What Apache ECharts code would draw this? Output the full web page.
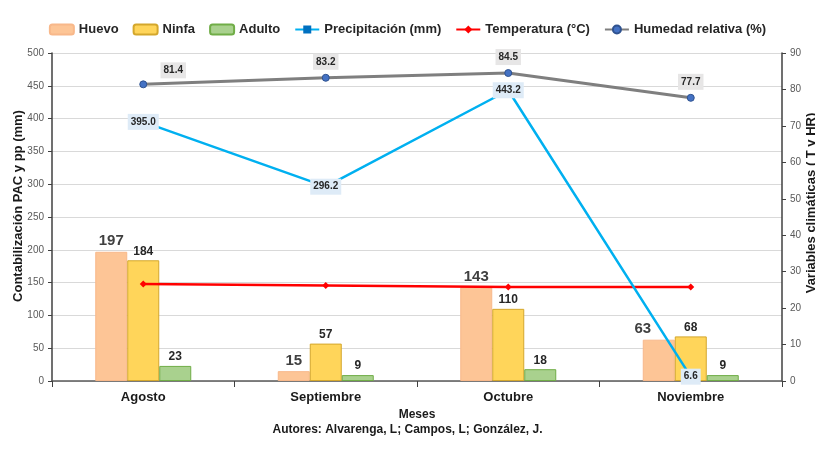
<!DOCTYPE html>
<html><head><meta charset="utf-8">
<script src="https://cdn.jsdelivr.net/npm/echarts@6/dist/echarts.min.js"></script>
<style>html,body{margin:0;padding:0;background:#fff}#c{width:815px;height:470px}</style>
</head><body><div id="c"></div>
<script>
const meses = ['Agosto', 'Septiembre', 'Octubre', 'Noviembre'];
const huevo = [197, 15, 143, 63];
const ninfa = [184, 57, 110, 68];
const adulto = [23, 9, 18, 9];
const precipitacion = [395.0, 296.2, 443.2, 6.6];
const temperatura = [26.6, 26.2, 25.8, 25.8];
const humedad = [81.4, 83.2, 84.5, 77.7];

const F = '"Liberation Sans", Arial, sans-serif';
const chart = echarts.init(document.getElementById('c'));
const barLbl = (sz, col) => ({show: true, position: 'top', distance: 3, fontFamily: F, fontWeight: 'bold', fontSize: sz, color: col});

chart.setOption({
  animation: false,
  textStyle: {fontFamily: F},
  legend: {
    top: 18, left: 'center', itemWidth: 24, itemHeight: 10, itemGap: 14,
    textStyle: {fontFamily: F, fontWeight: 'bold', fontSize: 13, color: '#262626'},
    data: ['Huevo', 'Ninfa', 'Adulto', 'Precipitación (mm)', 'Temperatura (°C)', 'Humedad relativa (%)']
  },
  grid: {left: 52, right: 33, top: 53, bottom: 89, outerBoundsMode: 'none', containLabel: false},
  xAxis: {
    type: 'category', data: meses,
    axisLine: {lineStyle: {color: '#595959', width: 1.5}},
    axisTick: {show: true, length: 6, inside: false, lineStyle: {color: '#404040'}},
    axisLabel: {fontFamily: F, fontWeight: 'bold', fontSize: 13, color: '#1a1a1a', margin: 10},
    name: 'Meses', nameLocation: 'middle', nameGap: 28, nameMoveOverlap: false,
    nameTextStyle: {fontFamily: F, fontWeight: 'bold', fontSize: 12, color: '#1a1a1a'}
  },
  yAxis: [{
    type: 'value', min: 0, max: 500, interval: 50,
    axisLine: {show: true, lineStyle: {color: '#404040', width: 1.5}},
    axisTick: {show: true, length: 4, lineStyle: {color: '#404040'}},
    axisLabel: {fontFamily: F, fontSize: 10, color: '#595959', margin: 8},
    splitLine: {lineStyle: {color: '#d9d9d9'}},
    name: 'Contabilización PAC y pp (mm)', nameLocation: 'middle', nameGap: 27, nameRotate: 90, nameMoveOverlap: false,
    nameTextStyle: {fontFamily: F, fontWeight: 'bold', fontSize: 13, color: '#1a1a1a', padding: [0, 0, 0, 22]}
  }, {
    type: 'value', min: 0, max: 90, interval: 10, position: 'right',
    axisLine: {show: true, lineStyle: {color: '#404040', width: 1.5}},
    axisTick: {show: true, length: 4, lineStyle: {color: '#404040'}},
    axisLabel: {fontFamily: F, fontSize: 10, color: '#595959', margin: 8},
    splitLine: {show: false},
    name: 'Variables climáticas ( T y HR)', nameLocation: 'middle', nameGap: 23, nameRotate: 90, nameMoveOverlap: false,
    nameTextStyle: {fontFamily: F, fontWeight: 'bold', fontSize: 13, color: '#1a1a1a', padding: [0, 0, 0, 28]}
  }],
  graphic: [{
    type: 'text', left: 'center', top: 424,
    style: {text: 'Autores: Alvarenga, L; Campos, L; González, J.', fontFamily: F, fontWeight: 'bold', fontSize: 12, fill: '#1a1a1a'}
  }],
  series: [
    {name: 'Huevo', type: 'bar', barWidth: 32, barGap: '0%', yAxisIndex: 0,
     itemStyle: {color: '#fdc596', borderColor: '#f8b88a', borderWidth: 1},
     label: barLbl(15, '#404040'),
     data: huevo.map((v, i) => i === 3 ? {value: v, label: {offset: [-16, 0]}} : v)},
    {name: 'Ninfa', type: 'bar', barWidth: 32, barGap: '0%', yAxisIndex: 0,
     itemStyle: {color: '#ffd55a', borderColor: '#d4a72c', borderWidth: 1},
     label: barLbl(12, '#262626'), data: ninfa},
    {name: 'Adulto', type: 'bar', barWidth: 32, barGap: '0%', yAxisIndex: 0,
     itemStyle: {color: '#a9d18e', borderColor: '#70ad47', borderWidth: 1},
     label: barLbl(12, '#262626'), data: adulto},
    {name: 'Precipitación (mm)', type: 'line', yAxisIndex: 0, z: 5,
     lineStyle: {color: '#00b0f0', width: 2.5}, itemStyle: {color: '#0070c0'},
     symbol: 'rect', symbolSize: 5,
     label: {show: true, position: 'inside', fontFamily: F, fontWeight: 'bold', fontSize: 10, color: '#262626',
             backgroundColor: '#deebf7', padding: [3, 3]},
     data: precipitacion.map(v => ({value: v, label: {formatter: v.toFixed(1)}}))},
    {name: 'Temperatura (°C)', type: 'line', yAxisIndex: 1, z: 4,
     lineStyle: {color: '#ff0000', width: 2.5}, itemStyle: {color: '#ff0000'},
     symbol: 'diamond', symbolSize: 7, data: temperatura},
    {name: 'Humedad relativa (%)', type: 'line', yAxisIndex: 1, z: 6,
     lineStyle: {color: '#7f7f7f', width: 3}, itemStyle: {color: '#4472c4', borderColor: '#2f528f', borderWidth: 1},
     symbol: 'circle', symbolSize: 7,
     label: {show: true, position: 'top', distance: 4, fontFamily: F, fontWeight: 'bold', fontSize: 10, color: '#262626',
             backgroundColor: '#e7e6e6', padding: [3, 3], formatter: p => p.value.toFixed(1)},
     data: humedad.map((v, i) => i === 0 ? {value: v, label: {offset: [30, 2]}} : v)}
  ]
});
</script></body></html>
